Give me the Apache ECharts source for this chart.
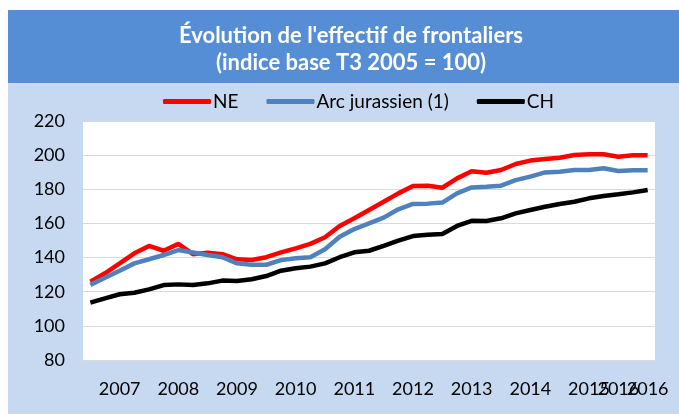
<!DOCTYPE html>
<html>
<head>
<meta charset="utf-8">
<title>Évolution de l'effectif de frontaliers</title>
<script src="https://cdn.jsdelivr.net/npm/echarts@6/dist/echarts.min.js"></script>
<style>
  html, body { margin: 0; padding: 0; background: #fff; }
  #chart { width: 679px; height: 414px; }
</style>
</head>
<body>
<div id="chart"></div>
<script>
// trimestres, T3 2006 -> T1 2016
const quarters = []
for (let y = 2006, q = 3; quarters.length < 39; q++) {
  if (q > 4) { q = 1; y++ }
  quarters.push('T' + q + ' ' + y)
}
// libellés de l'axe X (comme dans le graphique Excel d'origine)
const tickLabels = ['', '', '2007', '', '', '', '2008', '', '', '', '2009', '', '', '', '2010', '', '', '', '2011', '', '', '', '2012', '', '', '', '2013', '', '', '', '2014', '', '', '', '2015', '', '2016', '', '2016']

const neValues = [125.9, 130.8, 136.6, 142.5, 146.8, 144, 148, 142, 142.9, 142, 139, 138.6, 140.2, 143,
  145.4, 148, 151.9, 158.5, 163, 167.9, 172.7, 177.6, 181.9, 182.1, 180.9, 186.4, 190.6,
  189.7, 191.3, 194.8, 196.8, 197.8, 198.5, 200.1, 200.5, 200.5, 199.1, 199.9, 199.9]
const arcValues = [124, 128.2, 132.3, 136.6, 139, 141.5, 144.4, 143, 141.5, 140.2, 136.6, 135.8, 135.8, 138.5,
  139.6, 140.2, 144.9, 152.2, 156.7, 160, 163.4, 168.3, 171.4, 171.6, 172.2, 177.6, 181.1,
  181.5, 182.1, 185.4, 187.4, 189.9, 190.3, 191.3, 191.3, 192.3, 190.7, 191.1, 191.1]
const chValues = [113.6, 116.1, 118.5, 119.4, 121.4, 123.9, 124.3, 123.9, 124.9, 126.5, 126.3, 127.3, 129.2, 132.3,
  133.7, 134.7, 136.6, 140.2, 143.1, 144, 146.8, 149.9, 152.6, 153.4, 153.8, 158.5, 161.5,
  161.4, 163, 165.9, 167.9, 169.8, 171.4, 172.7, 174.7, 176.1, 177.1, 178.2, 179.6]

const font = 'Lato, "Open Sans", sans-serif'

const chart = echarts.init(document.getElementById('chart'))
chart.setOption({
  backgroundColor: '#ffffff',
  animation: false,
  graphic: [
    { type: 'rect', z: -10, shape: { x: 8, y: 83, width: 671, height: 331 }, style: { fill: '#c6d9f1' } },
    { type: 'rect', z: -10, shape: { x: 8, y: 10, width: 671, height: 73 }, style: { fill: '#558ed5' } }
  ],
  title: {
    text: "Évolution de l'effectif de frontaliers\n(indice base T3 2005 = 100)",
    left: 346,
    top: 17,
    textAlign: 'center',
    textStyle: { color: '#fff', fontFamily: font, fontSize: 22, fontWeight: 'bold', lineHeight: 27 }
  },
  legend: {
    top: 87,
    left: 158,
    itemWidth: 48,
    itemHeight: 5,
    itemGap: 28,
    icon: 'roundRect',
    textStyle: { color: '#000', fontFamily: font, fontSize: 19, padding: [0, 0, 0, -3] },
    data: ['NE', 'Arc jurassien (1)', 'CH']
  },
  grid: {
    left: 83, right: 24, top: 121, bottom: 54,
    show: true, backgroundColor: '#fff', borderWidth: 0
  },
  xAxis: {
    type: 'category',
    data: quarters,
    boundaryGap: true,
    axisLine: { show: false },
    axisTick: { show: false },
    axisLabel: {
      interval: 0,
      margin: 20,
      color: '#000',
      fontFamily: font,
      fontSize: 18,
      formatter: (v, i) => tickLabels[i]
    }
  },
  yAxis: {
    type: 'value',
    min: 80,
    max: 220,
    interval: 20,
    axisLine: { show: false },
    axisTick: { show: false },
    axisLabel: { color: '#000', fontFamily: font, fontSize: 18, margin: 18 },
    splitLine: { lineStyle: { color: '#d9d9d9', width: 1 } }
  },
  series: [
    { name: 'NE', type: 'line', data: neValues, symbol: 'none', z: 3,
      lineStyle: { color: '#ff0000', width: 4.5 }, itemStyle: { color: '#ff0000' } },
    { name: 'Arc jurassien (1)', type: 'line', data: arcValues, symbol: 'none', z: 4,
      lineStyle: { color: '#4f81bd', width: 4.5 }, itemStyle: { color: '#4f81bd' } },
    { name: 'CH', type: 'line', data: chValues, symbol: 'none', z: 2,
      lineStyle: { color: '#000000', width: 4.5 }, itemStyle: { color: '#000000' } }
  ]
})
</script>
</body>
</html>
